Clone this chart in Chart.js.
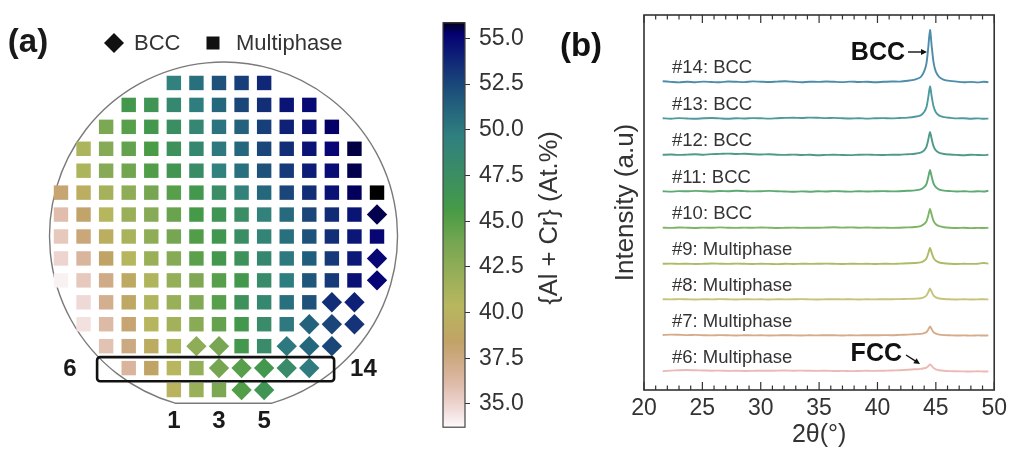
<!DOCTYPE html>
<html><head><meta charset="utf-8">
<script src="https://cdn.jsdelivr.net/npm/chart.js@4.4.1/dist/chart.umd.min.js"></script>
<style>
html,body{margin:0;padding:0;background:#fff;}
#wrap{position:relative;width:1012px;height:450px;overflow:hidden;background:#fff;}
canvas{position:absolute;top:0;}
</style></head><body>
<div id="wrap">
<canvas id="cA" width="420" height="450" style="left:0px"></canvas>
<canvas id="cB" width="150" height="450" style="left:420px"></canvas>
<canvas id="cC" width="452" height="450" style="left:560px"></canvas>
</div>
<script>
// ---------------- DATA ----------------
// Panel (a): wafer grid, row by row (top to bottom); first column index of each row
const gridStartCol = [5,3,2,1,1,0,0,0,0,0,1,1,2,3,5];
// {Al + Cr} (At.%) of each cell
const gridValues = [
 [49.5,50.5,52.0,52.8,53.8],
 [46.0,46.5,48.5,49.7,51.0,52.5,53.5,54.5,54.9],
 [43.5,45.0,46.0,47.5,48.7,50.3,51.3,52.8,54.0,54.7,55.3],
 [41.0,43.0,44.5,45.5,47.0,48.5,50.0,51.0,52.5,53.5,54.5,55.0,55.6],
 [41.0,43.0,44.0,45.2,46.3,47.8,49.5,50.5,52.0,53.0,54.2,54.8,55.5],
 [38.0,39.5,41.3,42.5,43.8,45.0,46.0,47.7,49.3,51.0,52.5,53.5,54.6,55.4,55.85],
 [36.0,38.3,40.5,42.0,43.0,44.3,45.7,46.5,47.7,49.3,50.8,52.5,53.6,54.5,55.5],
 [35.5,37.8,39.5,41.2,42.5,43.8,45.2,46.2,47.7,49.0,50.5,52.0,53.5,54.4,55.0],
 [35.0,36.5,38.5,40.5,42.0,43.0,44.8,46.0,47.0,48.5,50.0,51.5,53.0,54.3,55.0],
 [34.0,35.5,37.3,39.0,40.8,42.2,43.3,45.0,46.0,48.0,49.7,51.8,53.0,54.6,55.1],
 [34.8,37.0,38.8,40.8,42.0,43.2,45.0,47.0,48.5,50.5,52.0,53.5,54.0],
 [34.5,36.2,38.0,40.2,41.5,42.8,44.5,46.0,48.0,50.0,51.3,52.5,53.3],
 [35.8,37.5,39.3,41.0,42.5,43.7,46.0,48.0,50.0,51.0,52.5],
 [36.5,38.5,40.3,42.2,43.8,45.0,46.0,48.0,49.8],
 [40.0,42.0,43.5,45.2,46.5]
];
// phase of each cell: M = Multiphase (square), B = BCC (diamond)
const gridPhase = [
 "MMMMM",
 "MMMMMMMMM",
 "MMMMMMMMMMM",
 "MMMMMMMMMMMMM",
 "MMMMMMMMMMMMM",
 "MMMMMMMMMMMMMMM",
 "MMMMMMMMMMMMMMB",
 "MMMMMMMMMMMMMMM",
 "MMMMMMMMMMMMMMB",
 "MMMMMMMMMMMMMMB",
 "MMMMMMMMMMMBB",
 "MMMMMMMMMMBBB",
 "MMMMBBMMBBB",
 "MMMMBBBBB",
 "MMMBB"
];
const colorbarMin = 33.73;
const colorbarMax = 55.85;
const colorbarTicks = [35.0,37.5,40.0,42.5,45.0,47.5,50.0,52.5,55.0];
const legendLabels = ["BCC","Multiphase"];

// Panel (b): XRD patterns, 2θ (deg)
const xrdTheta = [21.6,22.3,23.0,23.7,24.4,25.1,25.8,26.5,27.2,27.9,28.6,29.3,30.0,30.7,31.4,32.1,32.8,33.5,34.2,34.9,35.6,36.3,37.0,37.7,38.4,39.1,39.8,40.5,41.2,41.9,42.6,
 43.2,43.7,44.0,44.2,44.35,44.5,44.65,44.8,45.0,45.3,45.7,46.2,46.8,47.4,48.0,48.6,49.1,49.5];
const xrd6  = [0.3,0.9,1.3,1.5,1.2,1.0,0.8,0.9,0.6,0.7,0.5,0.6,0.8,0.7,0.9,1.0,0.8,0.9,0.7,0.6,0.8,0.5,0.6,0.4,0.5,0.7,0.6,0.8,1.0,1.3,1.7,
 2.2,2.6,3.2,3.9,5.4,7.0,5.6,3.6,2.1,1.2,0.7,0.4,0.2,0.1,0.0,0.2,0.0,0.1];
const xrd7  = [0.5,0.9,0.7,0.4,0.6,0.3,0.1,0.4,0.2,0.0,0.3,0.1,0.2,0.0,0.1,0.3,0.1,0.0,0.2,0.1,0.3,0.2,0.0,0.2,0.1,0.3,0.2,0.4,0.3,0.6,0.9,
 1.3,1.6,2.3,3.5,6.0,9.0,6.2,3.4,1.8,0.9,0.4,0.2,0.0,0.1,-0.1,0.1,0.0,0.1];
const xrd8  = [0.3,0.1,0.4,0.2,0.0,0.3,0.1,0.4,0.2,0.0,0.3,0.1,0.2,0.0,0.3,0.1,0.2,0.4,0.1,0.0,0.2,0.3,0.1,0.3,0.0,0.2,0.1,0.3,0.2,0.4,0.6,
 0.8,1.2,2.3,4.0,7.3,11.0,7.5,4.2,2.2,1.0,0.5,0.2,0.0,0.2,0.0,0.1,0.3,0.1];
const xrd9  = [0.2,0.4,0.1,0.3,0.0,0.2,0.5,0.3,0.1,0.4,0.2,0.0,0.3,0.1,-0.1,0.2,0.0,0.3,0.1,0.2,0.4,0.2,0.0,0.3,0.1,0.2,0.0,0.3,0.1,0.4,0.7,
 1.0,1.6,3.3,5.8,10.6,16.0,10.9,6.1,3.2,1.5,0.7,0.3,0.0,0.2,0.1,0.3,1.0,0.4];
const xrd10 = [0.4,0.1,0.5,0.3,0.0,0.4,0.2,0.6,0.3,0.1,0.4,0.2,0.5,0.3,0.0,0.2,0.4,0.1,0.3,0.2,0.5,0.7,0.4,0.6,0.3,0.5,0.2,0.4,0.1,0.3,0.6,
 1.0,1.9,3.9,6.8,12.5,19.0,12.9,7.2,3.8,1.8,0.8,0.3,0.0,0.2,-0.1,0.1,0.0,0.2];
const xrd11 = [0.3,-0.1,0.4,0.2,0.6,0.3,0.0,0.5,0.2,0.7,0.4,0.1,0.3,0.6,0.2,0.0,-0.3,0.1,-0.2,0.2,0.0,0.4,0.1,-0.1,0.3,0.0,0.2,0.4,0.1,0.3,0.7,
 1.1,2.1,4.4,7.7,14.2,21.5,14.6,8.2,4.3,1.9,0.9,0.4,0.0,0.3,-0.1,0.2,0.0,0.8];
const xrd12 = [0.2,0.5,0.1,0.4,0.7,0.3,0.9,1.1,1.4,1.0,1.2,0.8,0.5,0.7,0.3,0.1,0.4,0.0,0.2,-0.2,0.1,0.3,0.0,-0.1,0.2,0.4,0.1,0.0,0.3,0.2,0.8,
 1.2,2.3,4.7,8.3,15.2,23.0,15.7,8.8,4.6,2.1,1.0,0.5,0.1,-0.2,0.2,0.0,-0.1,0.2];
const xrd13 = [0.3,-0.2,0.4,0.0,-0.3,0.2,0.5,0.1,-0.2,0.3,0.0,0.4,0.2,-0.1,0.3,0.6,0.8,0.5,0.9,0.7,0.4,0.6,0.2,0.0,0.3,-0.1,0.2,0.4,0.1,0.5,0.9,
 1.7,3.2,6.5,11.6,21.1,32.0,21.7,12.3,6.3,2.9,1.4,0.7,0.1,0.3,-0.2,0.1,-0.3,-0.1];
const xrd14 = [0.8,0.1,-0.4,0.3,-0.2,0.4,0.0,-0.3,0.5,0.2,-0.1,0.6,0.3,0.0,0.4,0.7,0.2,-0.2,0.3,0.1,0.5,0.2,-0.1,0.4,0.0,0.3,-0.2,0.2,0.5,0.4,1.2,
 2.4,4.9,10.6,18.9,34.3,52.0,35.2,19.9,10.3,4.8,2.2,1.1,0.4,-0.3,0.1,-0.4,0.2,-0.2];
const xrdSeries = [xrd6,xrd7,xrd8,xrd9,xrd10,xrd11,xrd12,xrd13,xrd14];
const xrdOffsets = [18.5,54.5,90.5,126,162,198.5,235,271.5,308];
const xrdLabels = ["#6: Multiphase","#7: Multiphase","#8: Multiphase","#9: Multiphase","#10: BCC","#11: BCC","#12: BCC","#13: BCC","#14: BCC"];
const xrdTicks = [20,25,30,35,40,45,50];

// ---------------- STYLE ----------------
const FONT = "'Liberation Sans', Arial, Helvetica, sans-serif";
const TXT = '#333333';
const xrdColors = ['#ebb9b6','#d6ab8a','#c6c47c','#aabd66','#7db466','#5eaa72','#4f9a88','#4f9a9e','#4d8daa'];

// gist_earth colormap (reversed for this chart)
const GE = {
 r: [[0,0],[0.2824,0.1882],[0.4588,0.2714],[0.5490,0.4719],[0.6980,0.7176],[0.7882,0.7553],[1,0.9922]],
 g: [[0,0],[0.0275,0],[0.1098,0.1893],[0.1647,0.3035],[0.2078,0.3841],[0.2824,0.5020],[0.5216,0.6397],[0.6980,0.7171],[0.7882,0.6392],[0.7922,0.6413],[0.8,0.6447],[0.8078,0.6481],[0.8157,0.6549],[0.8667,0.6991],[0.8745,0.7103],[0.8824,0.7216],[0.8902,0.7323],[0.898,0.743],[0.9412,0.8275],[0.9569,0.8635],[0.9647,0.8816],[0.9961,0.9733],[1,0.9843]],
 b: [[0,0],[0.0039,0.1684],[0.0078,0.2212],[0.0275,0.4329],[0.0314,0.4549],[0.2824,0.5004],[0.4667,0.2748],[0.5451,0.3205],[0.7843,0.3961],[0.8941,0.6651],[1,0.9843]]
};
function interp(tab,t){
  for(let i=1;i<tab.length;i++){
    if(t<=tab[i][0]){const a=tab[i-1],b=tab[i];return a[1]+(b[1]-a[1])*(t-a[0])/(b[0]-a[0]);}
  }
  return tab[tab.length-1][1];
}
function cmap(v){
  let t=(v-colorbarMin)/(colorbarMax-colorbarMin); t=Math.max(0,Math.min(1,t));
  const s=1-t;
  return 'rgb('+Math.round(255*interp(GE.r,s))+','+Math.round(255*interp(GE.g,s))+','+Math.round(255*interp(GE.b,s))+')';
}

// ---------------- PANEL (a) ----------------
const sqPts=[],sqCol=[],diPts=[],diCol=[];
gridValues.forEach((row,r)=>{
  row.forEach((v,i)=>{
    const p={x:gridStartCol[r]+i,y:r};
    if(gridPhase[r][i]==='B'){diPts.push(p);diCol.push(cmap(v));}
    else{sqPts.push(p);sqCol.push(cmap(v));}
  });
});

function arrow(ctx,x1,y1,x2,y2,head){
  const a=Math.atan2(y2-y1,x2-x1);
  ctx.beginPath();ctx.moveTo(x1,y1);ctx.lineTo(x2-Math.cos(a)*head*0.8,y2-Math.sin(a)*head*0.8);ctx.stroke();
  ctx.beginPath();
  ctx.moveTo(x2,y2);
  ctx.lineTo(x2-head*Math.cos(a)+head*0.5*Math.sin(a),y2-head*Math.sin(a)-head*0.5*Math.cos(a));
  ctx.lineTo(x2-head*Math.cos(a)-head*0.5*Math.sin(a),y2-head*Math.sin(a)+head*0.5*Math.cos(a));
  ctx.closePath();ctx.fill();
}

const waferPlugin={
  id:'wafer',
  beforeDatasetsDraw(chart){
    const ctx=chart.ctx, xs=chart.scales.x, ys=chart.scales.y;
    const cx=xs.getPixelForValue(7.2), cy=ys.getPixelForValue(6.98);
    const r=174, flatY=ys.getPixelForValue(14.6);
    const dy=flatY-cy, dx=Math.sqrt(r*r-dy*dy);
    const a1=Math.atan2(dy,dx), a2=Math.PI-a1;
    ctx.save();ctx.strokeStyle='#7a7a7a';ctx.lineWidth=1.4;
    ctx.beginPath();ctx.arc(cx,cy,r,a2,a1+2*Math.PI,false);ctx.closePath();ctx.stroke();
    ctx.restore();
  },
  afterDatasetsDraw(chart){
    const ctx=chart.ctx, xs=chart.scales.x, ys=chart.scales.y;
    ctx.save();
    const bx1=xs.getPixelForValue(1.6), bx2=xs.getPixelForValue(12.1);
    const by1=ys.getPixelForValue(12.5), by2=ys.getPixelForValue(13.6);
    ctx.strokeStyle='#111';ctx.lineWidth=2.6;
    ctx.beginPath();
    if(ctx.roundRect){ctx.roundRect(bx1,by1,bx2-bx1,by2-by1,3);}else{ctx.rect(bx1,by1,bx2-bx1,by2-by1);}
    ctx.stroke();
    ctx.fillStyle='#1a1a1a';ctx.font='bold 24px '+FONT;ctx.textAlign='center';ctx.textBaseline='middle';
    const yRow=ys.getPixelForValue(13.05);
    ctx.fillText('6',xs.getPixelForValue(0.4),yRow);
    ctx.fillText('14',xs.getPixelForValue(13.4),yRow);
    const yB=ys.getPixelForValue(15.45);
    ctx.fillText('1',xs.getPixelForValue(5),yB);
    ctx.fillText('3',xs.getPixelForValue(7),yB);
    ctx.fillText('5',xs.getPixelForValue(9),yB);
    ctx.font='bold 33px '+FONT;
    ctx.fillText('(a)',28,43);
    ctx.fillStyle='#111';
    ctx.beginPath();ctx.moveTo(114,33);ctx.lineTo(124,43);ctx.lineTo(114,53);ctx.lineTo(104,43);ctx.closePath();ctx.fill();
    ctx.fillRect(206.5,36.5,13,13);
    ctx.fillStyle=TXT;ctx.font='22px '+FONT;ctx.textAlign='left';
    ctx.fillText(legendLabels[0],134,44);
    ctx.fillText(legendLabels[1],236,44);
    ctx.restore();
  }
};

new Chart(document.getElementById('cA'),{
  type:'scatter',
  data:{datasets:[
    {label:'Multiphase',data:sqPts,pointStyle:'rect',pointRadius:10.2,pointHoverRadius:10.2,pointBackgroundColor:sqCol,pointBorderWidth:0,borderWidth:0,clip:false},
    {label:'BCC',data:diPts,pointStyle:'rectRot',pointRadius:10.2,pointHoverRadius:10.2,pointBackgroundColor:diCol,pointBorderWidth:0,borderWidth:0,clip:false}
  ]},
  options:{
    responsive:false,animation:false,events:[],
    layout:{padding:{left:49.7,right:31.7,top:72,bottom:49}},
    plugins:{legend:{display:false},tooltip:{enabled:false}},
    scales:{
      x:{type:'linear',min:-0.5,max:14.5,display:false},
      y:{type:'linear',min:-0.5,max:14.5,reverse:true,display:false}
    }
  },
  plugins:[waferPlugin]
});

// ---------------- COLORBAR ----------------
const cbarPlugin={
  id:'cbar',
  beforeDatasetsDraw(chart){
    const ctx=chart.ctx, a=chart.chartArea, ys=chart.scales.y;
    ctx.save();
    for(let py=Math.floor(a.top);py<Math.ceil(a.bottom);py++){
      ctx.fillStyle=cmap(ys.getValueForPixel(py+0.5));
      ctx.fillRect(a.left,py,a.right-a.left,1);
    }
    ctx.strokeStyle='#444';ctx.lineWidth=1.2;
    ctx.strokeRect(a.left,a.top,a.right-a.left,a.bottom-a.top);
    ctx.translate(130,218);ctx.rotate(-Math.PI/2);
    ctx.fillStyle=TXT;ctx.font='25.5px '+FONT;ctx.textAlign='center';ctx.textBaseline='middle';
    ctx.fillText('{Al + Cr} (At.%)',0,0);
    ctx.restore();
  }
};
new Chart(document.getElementById('cB'),{
  type:'scatter',
  data:{datasets:[]},
  options:{
    responsive:false,animation:false,events:[],
    layout:{padding:{left:23,right:30,top:13,bottom:20}},
    plugins:{legend:{display:false},tooltip:{enabled:false}},
    scales:{
      x:{type:'linear',min:0,max:1,display:false},
      y:{type:'linear',position:'right',min:colorbarMin,max:colorbarMax,
        afterBuildTicks:(ax)=>{ax.ticks=colorbarTicks.map(v=>({value:v}));},
        afterFit:(s)=>{s.width=75;},
        ticks:{autoSkip:false,callback:(v)=>Number(v).toFixed(1),font:{size:23,family:FONT},color:TXT,padding:9},
        grid:{drawOnChartArea:false,drawTicks:true,tickLength:5,color:'#333',lineWidth:1},
        border:{display:false}
      }
    }
  },
  plugins:[cbarPlugin]
});

// ---------------- PANEL (b) ----------------
const xrdDatasets=xrdSeries.map((s,k)=>({
  label:xrdLabels[k],
  data:xrdTheta.map((t,i)=>({x:t,y:s[i]+xrdOffsets[k]})),
  showLine:true,borderColor:xrdColors[k],borderWidth:1.9,pointRadius:0,tension:0.25,fill:false
}));
const xrdPlugin={
  id:'xrd',
  afterDatasetsDraw(chart){
    const ctx=chart.ctx,a=chart.chartArea,xs=chart.scales.x,ys=chart.scales.y;
    ctx.save();
    ctx.strokeStyle='#333';ctx.lineWidth=1.6;
    ctx.strokeRect(a.left,a.top,a.right-a.left,a.bottom-a.top);
    ctx.lineWidth=1.2;
    for(let v=20;v<=50;v++){
      const px=xs.getPixelForValue(v), L=(v%5===0)?8:4.5;
      ctx.beginPath();ctx.moveTo(px,a.top);ctx.lineTo(px,a.top+L);ctx.moveTo(px,a.bottom);ctx.lineTo(px,a.bottom-L);ctx.stroke();
    }
    ctx.fillStyle=TXT;ctx.font='18.5px '+FONT;ctx.textAlign='left';ctx.textBaseline='middle';
    xrdLabels.forEach((l,k)=>{ctx.fillText(l,xs.getPixelForValue(22.4),ys.getPixelForValue(xrdOffsets[k])-14);});
    const pk=xs.getPixelForValue(44.5);
    ctx.fillStyle='#111';ctx.strokeStyle='#111';ctx.lineWidth=1.4;
    ctx.font='bold 25px '+FONT;ctx.textAlign='right';
    ctx.fillText('BCC',pk-25,53);
    arrow(ctx,pk-22,52,pk-3,52,6);
    ctx.fillText('FCC',pk-28,354);
    arrow(ctx,pk-24,355,pk-10,364,6);
    ctx.textAlign='center';ctx.font='bold 33px '+FONT;
    ctx.fillText('(b)',21,47);
    ctx.restore();
  }
};
new Chart(document.getElementById('cC'),{
  type:'scatter',
  data:{datasets:xrdDatasets},
  options:{
    responsive:false,animation:false,events:[],
    layout:{padding:{left:46,right:14,top:15,bottom:0}},
    plugins:{legend:{display:false},tooltip:{enabled:false}},
    scales:{
      x:{type:'linear',min:20,max:50,
        afterBuildTicks:(ax)=>{ax.ticks=xrdTicks.map(v=>({value:v}));},
        afterFit:(s)=>{s.height=60;},
        ticks:{autoSkip:false,font:{size:23,family:FONT},color:TXT,padding:5,maxRotation:0},
        grid:{display:false,drawTicks:false},border:{display:false},
        title:{display:true,text:'2θ(°)',font:{size:25,family:FONT},color:TXT,padding:{top:0,bottom:0}}
      },
      y:{type:'linear',min:0,max:375,
        afterFit:(s)=>{s.width=38;},
        ticks:{display:false},grid:{display:false,drawTicks:false},border:{display:false},
        title:{display:true,text:'Intensity (a.u)',font:{size:26,family:FONT},color:TXT,padding:{top:4,bottom:0}}
      }
    }
  },
  plugins:[xrdPlugin]
});
</script>
</body></html>
